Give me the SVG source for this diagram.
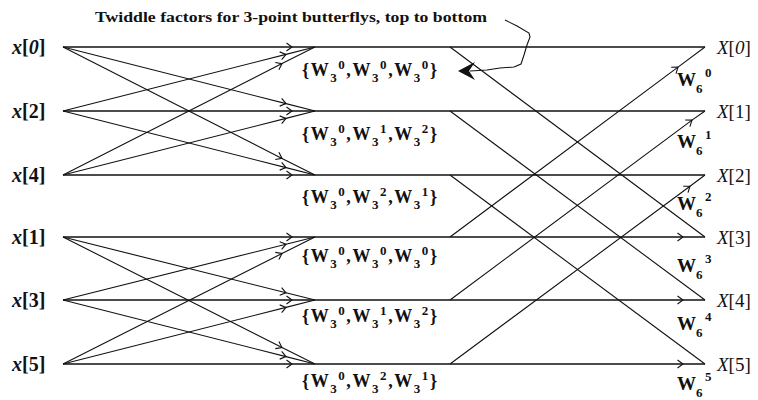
<svg xmlns="http://www.w3.org/2000/svg" width="758" height="400" viewBox="0 0 758 400">
<style>
.h{stroke:#111;stroke-width:1.7;fill:none}
.d{stroke:#111;stroke-width:1.1;fill:none}
.ar{marker-mid:url(#chev)}
.lab{font-family:"Liberation Serif","Times New Roman",serif;fill:#111}
.in{font-size:20px;font-weight:bold}
.out{font-size:19px}
.it{font-style:italic}
.tw{font-size:18px;font-weight:bold}
.sm{font-size:13px}
.w6{font-size:19px;font-weight:bold}
.sm6{font-size:13px}
.ttl{font-size:15px;font-weight:bold}
</style>
<defs>
<marker id="chev" viewBox="-7 -5 8 10" markerWidth="8" markerHeight="10" refX="0" refY="0" orient="auto" markerUnits="userSpaceOnUse">
<path d="M-5.5,-4 L0,0 L-5.5,4" fill="none" stroke="#111" stroke-width="1.1"/>
</marker>
</defs>
<rect width="758" height="400" fill="#fff"/>

<g id="connectors">
<!-- horizontal rows -->
<path class="h ar" d="M63,47 L292,47 L705,47"/>
<path class="h ar" d="M63,111 L292,111 L705,111"/>
<path class="h ar" d="M63,175 L292,175 L705,175"/>
<path class="h ar" d="M63,237 L292,237 L683,237 L705,237"/>
<path class="h ar" d="M63,300 L292,300 L683,300 L705,300"/>
<path class="h ar" d="M63,364 L292,364 L683,364 L705,364"/>
<!-- stage 1, group 0 -->
<path class="d ar" d="M63,47 L286,103.6 L315,111"/>
<path class="d ar" d="M63,47 L282,158.4 L315,175"/>
<path class="d ar" d="M63,111 L286,54.4 L315,47"/>
<path class="d ar" d="M63,111 L286,167.6 L315,175"/>
<path class="d ar" d="M63,175 L282,63.6 L315,47"/>
<path class="d ar" d="M63,175 L286,118.4 L315,111"/>
<!-- stage 1, group 1 -->
<path class="d ar" d="M63,237 L286,292.8 L315,300"/>
<path class="d ar" d="M63,237 L282,347.5 L315,364"/>
<path class="d ar" d="M63,300 L286,244.2 L315,237"/>
<path class="d ar" d="M63,300 L286,356.6 L315,364"/>
<path class="d ar" d="M63,364 L282,253.5 L315,237"/>
<path class="d ar" d="M63,364 L286,307.4 L315,300"/>
<!-- stage 2 -->
<path class="d" d="M450,47 L705,237"/>
<path class="d" d="M450,111 L705,300"/>
<path class="d" d="M450,175 L705,364"/>
<path class="d ar" d="M450,237 L678,67.1 L705,47"/>
<path class="d ar" d="M450,300 L692,120.1 L705,111"/>
<path class="d ar" d="M450,364 L690,186.2 L705,175"/>
<!-- annotation pointer -->
<path class="d" d="M505,20 L517,26 L529,33 L530,37 L527,45 L524,55 L521,64 L514,67 L500,68 L487,70 L470,71" stroke-width="1.2"/>
<path d="M458,71 L475,62 L469,71 L475,80 Z" fill="#111"/>
</g>

<g id="title"><text class="lab ttl" x="95" y="22" textLength="392" lengthAdjust="spacingAndGlyphs">Twiddle factors for 3-point butterflys, top to bottom</text></g>

<g id="in-x0"><text class="lab in" x="12" y="54"><tspan class="it">x</tspan>[<tspan class="it">0</tspan>]</text></g>
<g id="in-x2"><text class="lab in" x="12" y="118"><tspan class="it">x</tspan>[2]</text></g>
<g id="in-x4"><text class="lab in" x="12" y="182"><tspan class="it">x</tspan>[4]</text></g>
<g id="in-x1"><text class="lab in" x="12" y="244"><tspan class="it">x</tspan>[1]</text></g>
<g id="in-x3"><text class="lab in" x="12" y="307"><tspan class="it">x</tspan>[3]</text></g>
<g id="in-x5"><text class="lab in" x="12" y="371"><tspan class="it">x</tspan>[5]</text></g>

<g id="tw-0"><text class="lab tw" x="302" y="76" textLength="135">{W<tspan class="sm" dy="6">3</tspan><tspan class="sm" dy="-13">0</tspan><tspan dy="7">,W</tspan><tspan class="sm" dy="6">3</tspan><tspan class="sm" dy="-13">0</tspan><tspan dy="7">,W</tspan><tspan class="sm" dy="6">3</tspan><tspan class="sm" dy="-13">0</tspan><tspan dy="7">}</tspan></text></g>
<g id="tw-1"><text class="lab tw" x="302" y="140" textLength="135">{W<tspan class="sm" dy="6">3</tspan><tspan class="sm" dy="-13">0</tspan><tspan dy="7">,W</tspan><tspan class="sm" dy="6">3</tspan><tspan class="sm" dy="-13">1</tspan><tspan dy="7">,W</tspan><tspan class="sm" dy="6">3</tspan><tspan class="sm" dy="-13">2</tspan><tspan dy="7">}</tspan></text></g>
<g id="tw-2"><text class="lab tw" x="302" y="203" textLength="135">{W<tspan class="sm" dy="6">3</tspan><tspan class="sm" dy="-13">0</tspan><tspan dy="7">,W</tspan><tspan class="sm" dy="6">3</tspan><tspan class="sm" dy="-13">2</tspan><tspan dy="7">,W</tspan><tspan class="sm" dy="6">3</tspan><tspan class="sm" dy="-13">1</tspan><tspan dy="7">}</tspan></text></g>
<g id="tw-3"><text class="lab tw" x="302" y="262" textLength="135">{W<tspan class="sm" dy="6">3</tspan><tspan class="sm" dy="-13">0</tspan><tspan dy="7">,W</tspan><tspan class="sm" dy="6">3</tspan><tspan class="sm" dy="-13">0</tspan><tspan dy="7">,W</tspan><tspan class="sm" dy="6">3</tspan><tspan class="sm" dy="-13">0</tspan><tspan dy="7">}</tspan></text></g>
<g id="tw-4"><text class="lab tw" x="302" y="322" textLength="135">{W<tspan class="sm" dy="6">3</tspan><tspan class="sm" dy="-13">0</tspan><tspan dy="7">,W</tspan><tspan class="sm" dy="6">3</tspan><tspan class="sm" dy="-13">1</tspan><tspan dy="7">,W</tspan><tspan class="sm" dy="6">3</tspan><tspan class="sm" dy="-13">2</tspan><tspan dy="7">}</tspan></text></g>
<g id="tw-5"><text class="lab tw" x="302" y="387" textLength="135">{W<tspan class="sm" dy="6">3</tspan><tspan class="sm" dy="-13">0</tspan><tspan dy="7">,W</tspan><tspan class="sm" dy="6">3</tspan><tspan class="sm" dy="-13">2</tspan><tspan dy="7">,W</tspan><tspan class="sm" dy="6">3</tspan><tspan class="sm" dy="-13">1</tspan><tspan dy="7">}</tspan></text></g>

<g id="out-X0"><text class="lab out" x="717" y="54"><tspan class="it">X</tspan>[<tspan class="it">0</tspan>]</text></g>
<g id="out-X1"><text class="lab out" x="717" y="118"><tspan class="it">X</tspan>[1]</text></g>
<g id="out-X2"><text class="lab out" x="717" y="182"><tspan class="it">X</tspan>[2]</text></g>
<g id="out-X3"><text class="lab out" x="717" y="244"><tspan class="it">X</tspan>[3]</text></g>
<g id="out-X4"><text class="lab out" x="717" y="307"><tspan class="it">X</tspan>[4]</text></g>
<g id="out-X5"><text class="lab out" x="717" y="371"><tspan class="it">X</tspan>[5]</text></g>

<g id="w6-0"><text class="lab w6" x="677" y="86">W<tspan class="sm6" dy="7">6</tspan><tspan class="sm6" x="705" dy="-16">0</tspan></text></g>
<g id="w6-1"><text class="lab w6" x="677" y="148">W<tspan class="sm6" dy="7">6</tspan><tspan class="sm6" x="705" dy="-16">1</tspan></text></g>
<g id="w6-2"><text class="lab w6" x="677" y="210">W<tspan class="sm6" dy="7">6</tspan><tspan class="sm6" x="705" dy="-16">2</tspan></text></g>
<g id="w6-3"><text class="lab w6" x="677" y="272">W<tspan class="sm6" dy="7">6</tspan><tspan class="sm6" x="705" dy="-16">3</tspan></text></g>
<g id="w6-4"><text class="lab w6" x="677" y="330">W<tspan class="sm6" dy="7">6</tspan><tspan class="sm6" x="705" dy="-16">4</tspan></text></g>
<g id="w6-5"><text class="lab w6" x="677" y="390">W<tspan class="sm6" dy="7">6</tspan><tspan class="sm6" x="705" dy="-16">5</tspan></text></g>
</svg>
